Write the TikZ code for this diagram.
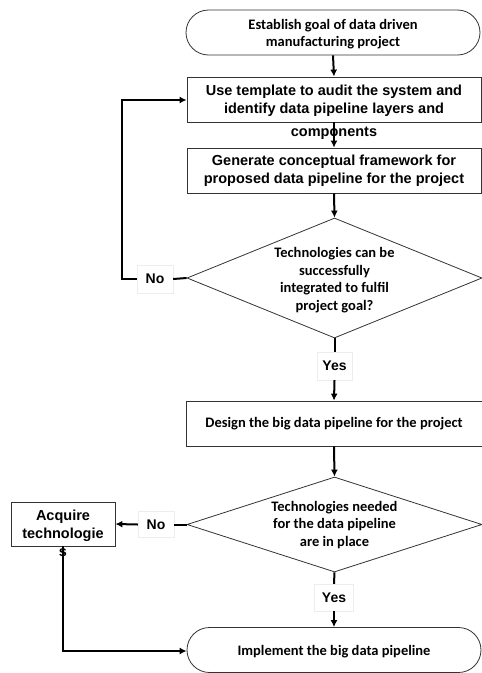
\documentclass[tikz,border=0pt]{standalone}
\usepackage{fontspec}
\setmainfont{Carlito}
\newfontfamily\arialb{Liberation Sans}
\usetikzlibrary{arrows.meta,shapes.geometric,shapes.misc}
\begin{document}
\begin{tikzpicture}[x=1pt,y=-1pt,
  shapeline/.style={draw=black!80, line width=0.8pt},
  term/.style={shapeline, rounded rectangle, minimum width=294pt, minimum height=45pt, inner sep=0pt},
  proc/.style={shapeline, rectangle, minimum width=294pt, minimum height=45pt, inner sep=0pt},
  dec/.style={shapeline, diamond, minimum width=295pt, minimum height=#1, inner sep=0pt},
  txt/.style={font=\bfseries\fontsize{14.5}{17.6}\selectfont, align=center, inner sep=0pt},
  atxt/.style={font=\arialb\bfseries\fontsize{14.5}{18.2}\selectfont, align=center, inner sep=0pt},
  lab/.style={draw=black!7, fill=white, font=\arialb\bfseries\fontsize{14}{16}\selectfont, inner sep=0pt},
  conn/.style={line width=2pt, black},
  arr/.style={conn, -{Latex[length=7pt,width=7pt]}}
]
\useasboundingbox (0,0) rectangle (482,673);
\begin{scope}
\clip (0,0) rectangle (482,673);
% shapes
\node[term] (t1) at (333,32.5) {};
\node[proc] (b2) at (334,99.5) {};
\node[proc] (b3) at (334,170.5) {};
\node[dec=120pt] (d1) at (334.5,278) {};
\node[proc, minimum height=45pt, minimum width=296pt] (b4) at (334,423.5) {};
\node[dec=95pt] (d2) at (334.5,524.5) {};
\node[shapeline, rectangle, minimum width=104pt, minimum height=44pt, inner sep=0pt] (acq) at (63,524) {};
\node[term] (t2) at (334,650) {};
% labels
\node[lab, minimum width=36pt, minimum height=28pt] (no1) at (155,279) {No};
\node[lab, minimum width=35pt, minimum height=28pt] (yes1) at (334.5,366) {Yes};
\node[lab, minimum width=36pt, minimum height=26pt] (no2) at (156,524.5) {No};
\node[lab, minimum width=39pt, minimum height=27pt] (yes2) at (334,597.5) {Yes};
\coordinate (c1a) at (122,279);
\coordinate (c1b) at (122,100);
\coordinate (c2a) at (63,651);
% connectors
\draw[arr] (t1.south) -- (b2.north);
\draw[arr] (b2.south) -- (b3.north);
\draw[arr] (b3.south) -- (d1.north);
\draw[conn] (d1.west) -- (no1.east);
\draw[arr] (no1.west) -- (c1a) -- (c1b) -- (b2.west |- c1b);
\draw[conn] (d1.south) -- (yes1.north);
\draw[arr] (yes1.south) -- (b4.north);
\draw[arr] (b4.south) -- (d2.north);
\draw[conn] (d2.west) -- (no2.east);
\draw[arr] (no2.west) -- (acq.east);
\draw[conn] (d2.south) -- (yes2.north);
\draw[arr] (yes2.south) -- (t2.north);
\draw[arr] (acq.south) -- (c2a) -- (t2.west |- c2a);
% texts
\node[txt] (t1t) at (333,34) {Establish goal of data driven\\manufacturing project};
\node[atxt] (b2t) at (334,112) {Use template to audit the system and\\identify data pipeline layers and\\[5pt]components};
\node[atxt] (b3t) at (334,171) {Generate conceptual framework for\\proposed data pipeline for the project};
\node[txt] (d1t) at (334.5,280) {Technologies can be\\successfully\\integrated to fulfil\\project goal?};
\node[txt] (b4t) at (334,424) {Design the big data pipeline for the project};
\node[txt] (d2t) at (334.5,525) {Technologies needed\\for the data pipeline\\are in place};
\node[atxt, font=\arialb\bfseries\fontsize{14.5}{18}\selectfont] (acqt) at (63,533) {Acquire\\technologie\\s};
\node[txt] (t2t) at (334,652) {Implement the big data pipeline};
\end{scope}
\end{tikzpicture}
\end{document}
